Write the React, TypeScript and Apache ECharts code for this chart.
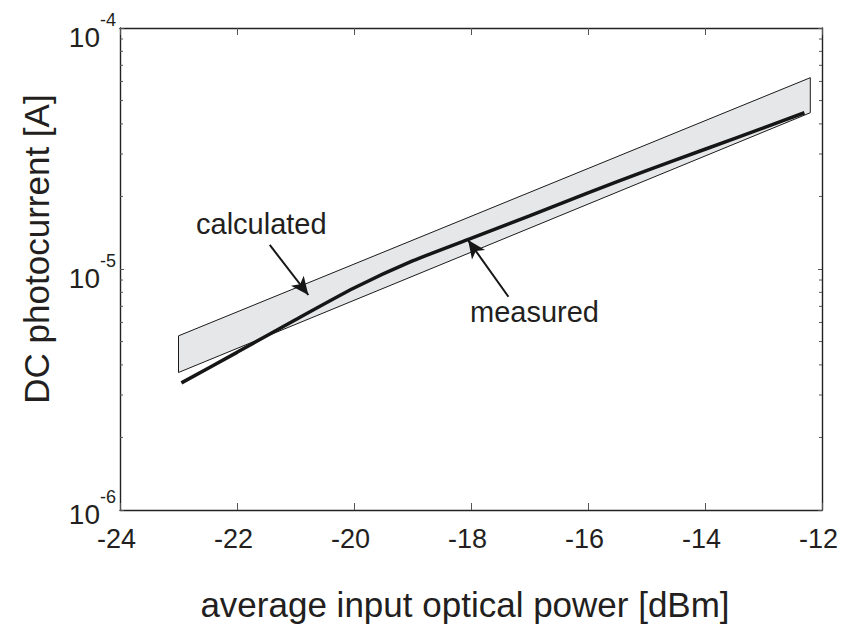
import React, { useEffect, useRef } from "react";
import * as echarts from "echarts";

// x positions (dBm) of the calculated band's two ends
const calcX = [-23, -12.2];
// upper and lower bounds of the calculated photocurrent band (A)
const calcUpper = [5.28e-6, 6.22e-5];
const calcLower = [3.72e-6, 4.45e-5];

// measured DC photocurrent
const measX = [-22.95, -22, -21, -20, -19, -18, -17, -16, -15, -14, -13, -12.3];
const measY = [3.37e-6, 4.51e-6, 6.16e-6, 8.34e-6, 1.08e-5, 1.34e-5, 1.66e-5, 2.07e-5, 2.56e-5, 3.14e-5, 3.85e-5, 4.45e-5];

// axis ticks
const xTicks = [-24, -22, -20, -18, -16, -14, -12];
const yDecades = [1e-6, 1e-5, 1e-4];
const yDecadeBase = ["10", "10", "10"];
const yDecadeExp = ["-6", "-5", "-4"];
const yMinorTicks = [
  2e-6, 3e-6, 4e-6, 5e-6, 6e-6, 7e-6, 8e-6, 9e-6,
  2e-5, 3e-5, 4e-5, 5e-5, 6e-5, 7e-5, 8e-5, 9e-5,
];

// annotation arrows: [from, to] in data units
const calcArrow = [[-21.44, 1.258e-5], [-20.78, 7.8e-6]];
const measArrow = [[-17.36, 7.67e-6], [-18.05, 1.318e-5]];

const FONT = "'Liberation Sans', Arial, Helvetica, sans-serif";
const INK = "#231f20";

export default function App() {
  const ref = useRef<HTMLDivElement>(null);

  useEffect(() => {
    if (!ref.current) return;
    const chart = echarts.init(ref.current, null, { renderer: "svg" });

    const axisLine = { show: true, onZero: false, lineStyle: { color: "#222", width: 1.4 } };
    const tickStyle = { color: "#555", width: 1 };

    const option: any = {
      animation: false,
      backgroundColor: "#ffffff",
      grid: { left: 120, right: 23, top: 28, bottom: 118, containLabel: false },
      xAxis: [
        {
          type: "value",
          min: xTicks[0],
          max: xTicks[xTicks.length - 1],
          interval: 2,
          position: "bottom",
          axisLine,
          axisTick: { show: true, inside: true, length: 7, lineStyle: tickStyle },
          axisLabel: {
            show: true,
            fontSize: 27,
            fontFamily: FONT,
            color: INK,
            margin: 15,
            padding: [0, 7, 0, 0],
            showMinLabel: true,
            showMaxLabel: true,
          },
          splitLine: { show: false },
        },
        {
          type: "value",
          min: xTicks[0],
          max: xTicks[xTicks.length - 1],
          interval: 2,
          position: "top",
          axisLine,
          axisTick: { show: true, inside: true, length: 7, lineStyle: tickStyle },
          axisLabel: { show: false },
          splitLine: { show: false },
        },
      ],
      yAxis: [
        {
          type: "log",
          logBase: 10,
          min: yDecades[0],
          max: yDecades[yDecades.length - 1],
          position: "left",
          axisLine,
          axisTick: { show: true, inside: true, length: 4, lineStyle: tickStyle },
          axisLabel: { show: false },
          splitLine: { show: false },
          minorTick: { show: false },
        },
        {
          type: "log",
          logBase: 10,
          min: yDecades[0],
          max: yDecades[yDecades.length - 1],
          position: "right",
          axisLine,
          axisTick: { show: true, inside: true, length: 4, lineStyle: tickStyle },
          axisLabel: { show: false },
          splitLine: { show: false },
        },
      ],
      series: [
        {
          type: "custom",
          name: "calculated",
          xAxisIndex: 0,
          yAxisIndex: 0,
          z: 1,
          silent: true,
          data: [[calcX[0], calcUpper[0]]],
          encode: { x: 0, y: 1 },
          renderItem: (_params: any, api: any) => {
            const pts: number[][] = [];
            for (let i = 0; i < calcX.length; i++) pts.push(api.coord([calcX[i], calcUpper[i]]));
            for (let i = calcX.length - 1; i >= 0; i--) pts.push(api.coord([calcX[i], calcLower[i]]));
            return {
              type: "polygon",
              shape: { points: pts },
              style: { fill: "#e6e7e8", stroke: "#1a1a1a", lineWidth: 1 },
            };
          },
        },
        {
          type: "custom",
          name: "minor ticks",
          xAxisIndex: 0,
          yAxisIndex: 0,
          z: 3,
          silent: true,
          data: yMinorTicks.map((v) => [xTicks[0], v]),
          encode: { x: 0, y: 1 },
          renderItem: (params: any, api: any) => {
            const v = yMinorTicks[params.dataIndex];
            const l = api.coord([xTicks[0], v]);
            const r = api.coord([xTicks[xTicks.length - 1], v]);
            return {
              type: "group",
              children: [
                { type: "line", shape: { x1: l[0], y1: l[1], x2: l[0] + 3, y2: l[1] }, style: { stroke: "#555", lineWidth: 1 } },
                { type: "line", shape: { x1: r[0], y1: r[1], x2: r[0] - 3, y2: r[1] }, style: { stroke: "#555", lineWidth: 1 } },
              ],
            };
          },
        },
        {
          type: "custom",
          name: "y tick labels",
          xAxisIndex: 0,
          yAxisIndex: 0,
          z: 4,
          silent: true,
          clip: false,
          data: yDecades.map((v) => [xTicks[0], v]),
          encode: { x: 0, y: 1 },
          renderItem: (params: any, api: any) => {
            const i = params.dataIndex;
            const p = api.coord([xTicks[0], yDecades[i]]);
            const shift = i === 0 ? -5 : 0;
            return {
              type: "group",
              children: [
                {
                  type: "text",
                  x: p[0] - 20,
                  y: p[1] + 9 + shift,
                  style: { text: yDecadeBase[i], fontSize: 28, fontFamily: FONT, fill: INK, align: "right", verticalAlign: "middle" },
                },
                {
                  type: "text",
                  x: p[0] - 20,
                  y: p[1] - 8 + shift,
                  style: { text: yDecadeExp[i], fontSize: 18, fontFamily: FONT, fill: INK, align: "left", verticalAlign: "middle" },
                },
              ],
            };
          },
        },
        {
          type: "line",
          name: "measured",
          xAxisIndex: 0,
          yAxisIndex: 0,
          z: 2,
          data: measX.map((x, i) => [x, measY[i]]),
          showSymbol: false,
          symbol: "none",
          smooth: 0.2,
          lineStyle: { color: "#161616", width: 3.5 },
          markLine: {
            silent: true,
            symbol: ["none", "arrow"],
            symbolSize: [12, 18],
            label: { show: false },
            lineStyle: { color: "#161616", width: 2, type: "solid" },
            data: [
              [{ coord: calcArrow[0] }, { coord: calcArrow[1] }],
              [{ coord: measArrow[0] }, { coord: measArrow[1] }],
            ],
          },
        },
      ],
      graphic: [
        {
          type: "text",
          x: 196,
          y: 224,
          style: { text: "calculated", fontSize: 29, fontFamily: FONT, fill: INK, textAlign: "left", textVerticalAlign: "middle" },
        },
        {
          type: "text",
          x: 470,
          y: 312,
          style: { text: "measured", fontSize: 29, fontFamily: FONT, fill: INK, textAlign: "left", textVerticalAlign: "middle" },
        },
        {
          type: "text",
          x: 465,
          y: 604,
          style: { text: "average input optical power [dBm]", fontSize: 35, fontFamily: FONT, fill: INK, textAlign: "center", textVerticalAlign: "middle" },
        },
        {
          type: "text",
          x: 36,
          y: 249,
          rotation: Math.PI / 2,
          style: { text: "DC photocurrent [A]", fontSize: 35, fontFamily: FONT, fill: INK, textAlign: "center", textVerticalAlign: "middle" },
        },
      ],
    };

    chart.setOption(option);
    return () => chart.dispose();
  }, []);

  return (
    <div
      ref={ref}
      style={{ position: "fixed", left: 0, top: 0, width: 845, height: 628, background: "#fff" }}
    />
  );
}
